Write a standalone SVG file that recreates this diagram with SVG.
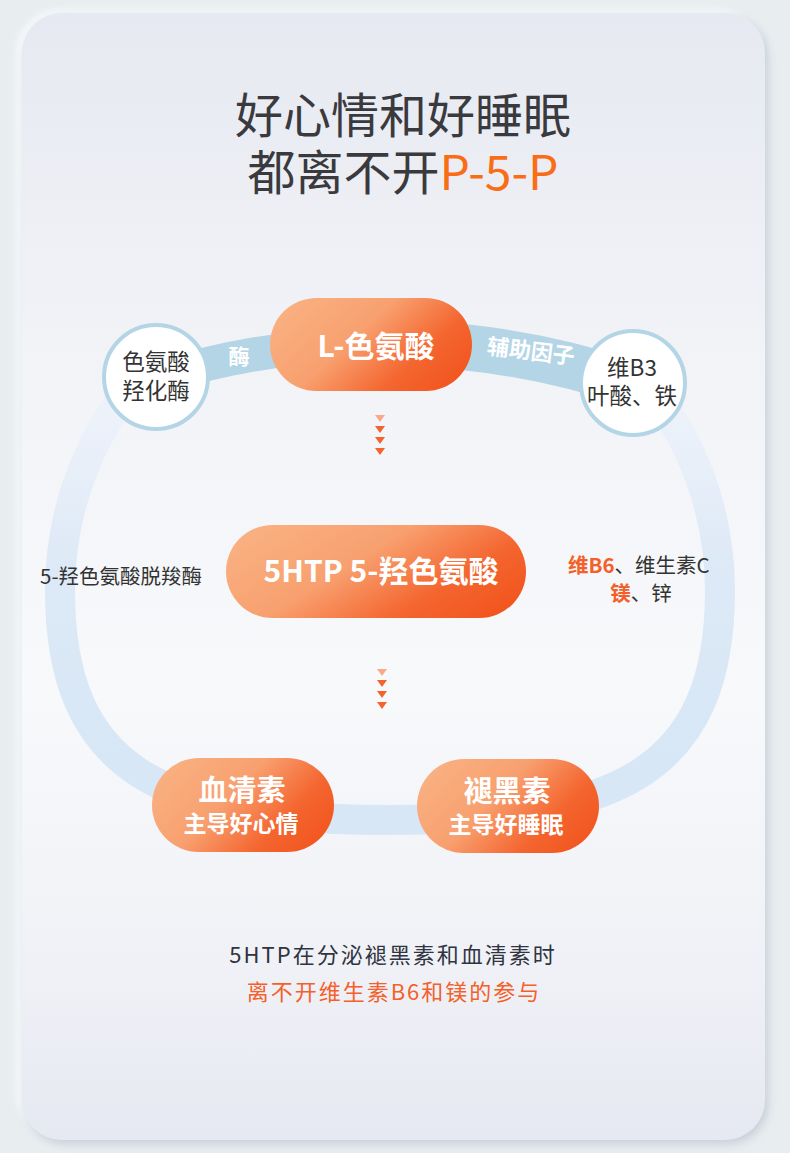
<svg xmlns="http://www.w3.org/2000/svg" width="790" height="1153" viewBox="0 0 790 1153">
<defs>
<linearGradient id="cardG" x1="0" y1="0" x2="0" y2="1">
<stop offset="0" stop-color="#e6e9f1"/>
<stop offset="0.3" stop-color="#f2f3f7"/>
<stop offset="0.6" stop-color="#f8f9fb"/>
<stop offset="0.85" stop-color="#f0f1f6"/>
<stop offset="1" stop-color="#e6e8f2"/>
</linearGradient>
<linearGradient id="pillG" x1="0" y1="0.25" x2="1" y2="0.75">
<stop offset="0" stop-color="#f9b081"/>
<stop offset="0.4" stop-color="#f8a06f"/>
<stop offset="0.75" stop-color="#f4652f"/>
<stop offset="1" stop-color="#f2561f"/>
</linearGradient>
<linearGradient id="ringG" gradientUnits="userSpaceOnUse" x1="0" y1="410" x2="0" y2="760">
<stop offset="0" stop-color="#edf2fa"/>
<stop offset="0.45" stop-color="#dde9f6"/>
<stop offset="1" stop-color="#d7e7f6"/>
</linearGradient>
<filter id="shadow" x="-5%" y="-5%" width="110%" height="110%">
<feDropShadow dx="3" dy="4" stdDeviation="5" flood-color="#aab6c2" flood-opacity="0.55"/>
</filter>
<filter id="blur" x="-5%" y="-5%" width="110%" height="110%">
<feGaussianBlur stdDeviation="3"/>
</filter>
<polygon id="tri" points="-5,0 5,0 0,7"/>
</defs>
<style>
text{font-family:"Noto Sans CJK SC","Noto Sans",sans-serif;}
.title{font-size:48px;fill:#3a3a3e;text-anchor:middle;}
.pill{fill:url(#pillG);}
.pt{fill:#fff;font-weight:bold;text-anchor:middle;}
.circ{fill:#fff;stroke:#b3d5e6;stroke-width:4;}
.ct{font-size:22.5px;fill:#333;text-anchor:middle;}
.side{font-size:20.5px;fill:#333;}
.or{fill:#f4602a;font-weight:bold;}
.arr{fill:#f4622e;}
.band{fill:none;stroke:#b3d5e6;}
</style>
<rect x="0" y="0" width="790" height="1153" fill="#e8edf0"/>
<rect x="16" y="9" width="745" height="1128" rx="44" fill="#f6f9fb" filter="url(#blur)"/>
<rect x="22" y="13" width="743" height="1127" rx="40" fill="url(#cardG)" filter="url(#shadow)"/>

<text class="title" x="403" y="133">好心情和好睡眠</text>
<text class="title" x="403" y="190">都离不开<tspan fill="#f96d17">P-5-P</tspan></text>

<g id="connectors">
<path d="M 120 401 A 330 330 0 0 0 60 590 C 60 770 160 820 390 820 C 620 820 720 770 720 590 A 330 330 0 0 0 660 401" fill="none" stroke="url(#ringG)" stroke-width="30"/>
<path class="band" d="M 156 378 Q 395 305 633 384" stroke-width="34"/>
<path class="band" d="M 418.6 343.7 Q 525.9 348.45 633 384" stroke-width="46"/>
<text x="239" y="364" font-size="21" font-weight="bold" fill="#fff" text-anchor="middle">酶</text>
<text x="0" y="0" font-size="22" font-weight="bold" fill="#fff" text-anchor="middle" transform="translate(530 359) rotate(7)">辅助因子</text>
<g id="arrows1">
<use href="#tri" x="380" y="415" fill="#f9a98a"/>
<use href="#tri" x="380" y="426" class="arr"/>
<use href="#tri" x="380" y="437" class="arr"/>
<use href="#tri" x="380" y="448" class="arr"/>
</g>
<g id="arrows2">
<use href="#tri" x="382" y="669" fill="#f9a98a"/>
<use href="#tri" x="382" y="680" class="arr"/>
<use href="#tri" x="382" y="691" class="arr"/>
<use href="#tri" x="382" y="702" class="arr"/>
</g>
</g>

<g id="node-left-circle">
<circle class="circ" cx="156" cy="377" r="52"/>
<text class="ct" x="156" y="370">色氨酸</text>
<text class="ct" x="156" y="399">羟化酶</text>
</g>
<g id="node-right-circle">
<circle class="circ" cx="633" cy="383" r="52"/>
<text class="ct" x="632" y="376">维B3</text>
<text class="ct" x="632" y="404">叶酸、铁</text>
</g>
<g id="node-ltrp">
<rect class="pill" x="270" y="298" width="202" height="93" rx="46.5"/>
<text class="pt" x="376" y="357" font-size="30">L-色氨酸</text>
</g>
<g id="node-5htp">
<rect class="pill" x="226" y="525" width="300" height="93" rx="46.5"/>
<text class="pt" x="381" y="582" font-size="30">5HTP 5-羟色氨酸</text>
</g>
<g id="node-serotonin">
<rect class="pill" x="152" y="758" width="182" height="94" rx="47"/>
<text class="pt" x="242" y="801" font-size="29">血清素</text>
<text class="pt" x="241" y="832" font-size="23">主导好心情</text>
</g>
<g id="node-melatonin">
<rect class="pill" x="417" y="759" width="182" height="94" rx="47"/>
<text class="pt" x="507" y="802" font-size="29">褪黑素</text>
<text class="pt" x="506" y="833" font-size="23">主导好睡眠</text>
</g>

<text class="side" x="40" y="584">5-羟色氨酸脱羧酶</text>
<text class="side" x="568" y="573"><tspan class="or">维B6</tspan>、维生素C</text>
<text class="side" x="641" y="601" text-anchor="middle"><tspan class="or">镁</tspan>、锌</text>

<text x="393" y="963" font-size="22" letter-spacing="2" fill="#2f3440" text-anchor="middle">5HTP在分泌褪黑素和血清素时</text>
<text x="394" y="1000" font-size="22" letter-spacing="2" fill="#f4602a" text-anchor="middle">离不开维生素B6和镁的参与</text>
</svg>
